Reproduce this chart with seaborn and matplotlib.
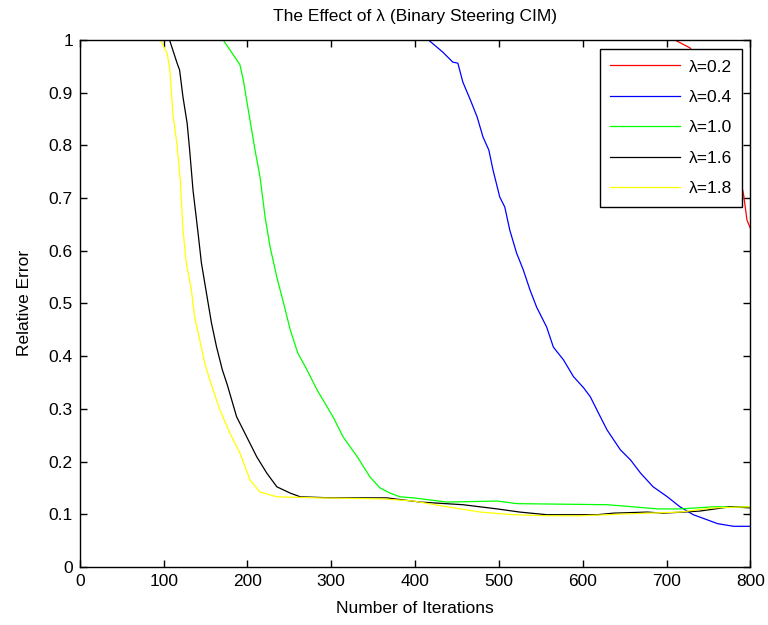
import seaborn as sns
import matplotlib.pyplot as plt
import pandas as pd

# valores
red_x = [705, 710, 728, 745, 760, 775, 785, 792, 796, 800]
red_y = [1.02, 1.0, 0.985, 0.95, 0.90, 0.83, 0.76, 0.706, 0.658, 0.643]

blue_x = [410, 416, 433, 445, 451, 457, 466, 474, 481, 488, 493, 501, 507, 513, 521, 529,
          537, 545, 557, 565, 577, 589, 601, 609, 621, 629, 645, 657, 669, 684, 701, 716,
          732, 761, 780, 800]
blue_y = [1.02, 1.0, 0.977, 0.958, 0.956, 0.92, 0.886, 0.854, 0.816, 0.791, 0.753, 0.702,
          0.683, 0.639, 0.596, 0.564, 0.526, 0.493, 0.455, 0.417, 0.393, 0.361, 0.34, 0.323,
          0.285, 0.26, 0.222, 0.203, 0.178, 0.152, 0.133, 0.114, 0.099, 0.082, 0.077, 0.077]

green_x = [166, 171, 191, 195, 203, 209, 215, 221, 227, 235, 243, 251, 260, 271, 283, 302,
           314, 331, 346, 358, 370, 382, 398, 438, 498, 522, 629, 660, 689, 716, 756, 800]
green_y = [1.02, 1.0, 0.953, 0.924, 0.848, 0.791, 0.74, 0.664, 0.607, 0.55, 0.501, 0.45,
           0.406, 0.374, 0.336, 0.285, 0.247, 0.209, 0.171, 0.15, 0.14, 0.133, 0.131, 0.123,
           0.125, 0.12, 0.118, 0.114, 0.11, 0.11, 0.114, 0.114]

black_x = [96, 99, 107, 116, 119, 123, 128, 131, 135, 141, 145, 151, 157, 163, 170, 176, 187,
           199, 211, 223, 235, 251, 263, 300, 366, 406, 457, 498, 525, 557, 617, 637, 677, 696,
           720, 740, 776, 800]
black_y = [1.02, 1.0, 1.0, 0.956, 0.943, 0.892, 0.842, 0.791, 0.715, 0.634, 0.577, 0.52,
           0.463, 0.418, 0.374, 0.345, 0.285, 0.247, 0.209, 0.178, 0.152, 0.14, 0.133, 0.131,
           0.131, 0.123, 0.118, 0.11, 0.104, 0.099, 0.099, 0.102, 0.104, 0.102, 0.104, 0.106,
           0.114, 0.112]

yellow_x = [93, 96, 104, 107, 111, 116, 120, 123, 127, 133, 137, 143, 149, 155, 167, 179, 191,
            203, 215, 235, 283, 362, 398, 438, 478, 517, 557, 597, 629, 677, 716, 756, 800]
yellow_y = [1.02, 1.0, 0.975, 0.949, 0.86, 0.80, 0.73, 0.64, 0.577, 0.526, 0.474, 0.431,
            0.387, 0.355, 0.298, 0.254, 0.216, 0.165, 0.142, 0.133, 0.131, 0.129, 0.125,
            0.114, 0.104, 0.099, 0.097, 0.097, 0.099, 0.102, 0.104, 0.112, 0.114]

etiquetas = ["λ=0.2", "λ=0.4", "λ=1.0", "λ=1.6", "λ=1.8"]
colores = ["#ff0000", "#0000ff", "#00ff00", "#000000", "#ffff00"]

series = [(red_x, red_y), (blue_x, blue_y), (green_x, green_y), (black_x, black_y), (yellow_x, yellow_y)]
partes = []
for etiqueta, (xs, ys) in zip(etiquetas, series):
    partes.append(pd.DataFrame({"iter": xs, "error": ys, "serie": etiqueta}))
df = pd.concat(partes, ignore_index=True)

plt.rcParams['font.family'] = ['Liberation Sans', 'DejaVu Sans']
fs = 12.5

fig = plt.figure(figsize=(7.68, 6.25), dpi=100)
ax = fig.add_axes([0.104, 0.093, 0.873, 0.843])

sns.lineplot(data=df, x="iter", y="error", hue="serie", palette=colores,
             hue_order=etiquetas, sort=False, estimator=None, linewidth=0.9, ax=ax)

ax.set_xlim(0, 800)
ax.set_ylim(0, 1)
ax.set_xticks(range(0, 801, 100))
ax.set_yticks([i / 10 for i in range(11)])
ax.set_yticklabels(["0", "0.1", "0.2", "0.3", "0.4", "0.5", "0.6", "0.7", "0.8", "0.9", "1"])
ax.tick_params(direction='in', top=True, right=True, length=5, width=1, labelsize=fs, pad=5)
for s in ax.spines.values():
    s.set_linewidth(1)

ax.set_title("The Effect of λ (Binary Steering CIM)", fontsize=fs, pad=14)
ax.set_xlabel("Number of Iterations", fontsize=fs, labelpad=8.5)
ax.set_ylabel("Relative Error", fontsize=fs, labelpad=12)

leg = ax.legend(loc='upper right', bbox_to_anchor=(0.988, 0.983), borderaxespad=0,
                fontsize=fs, handlelength=4.0, handletextpad=0.5, labelspacing=0.88,
                fancybox=False, framealpha=1, edgecolor='black', borderpad=0.6)
leg.get_frame().set_linewidth(1)

fig.savefig("out.png", dpi=100)
